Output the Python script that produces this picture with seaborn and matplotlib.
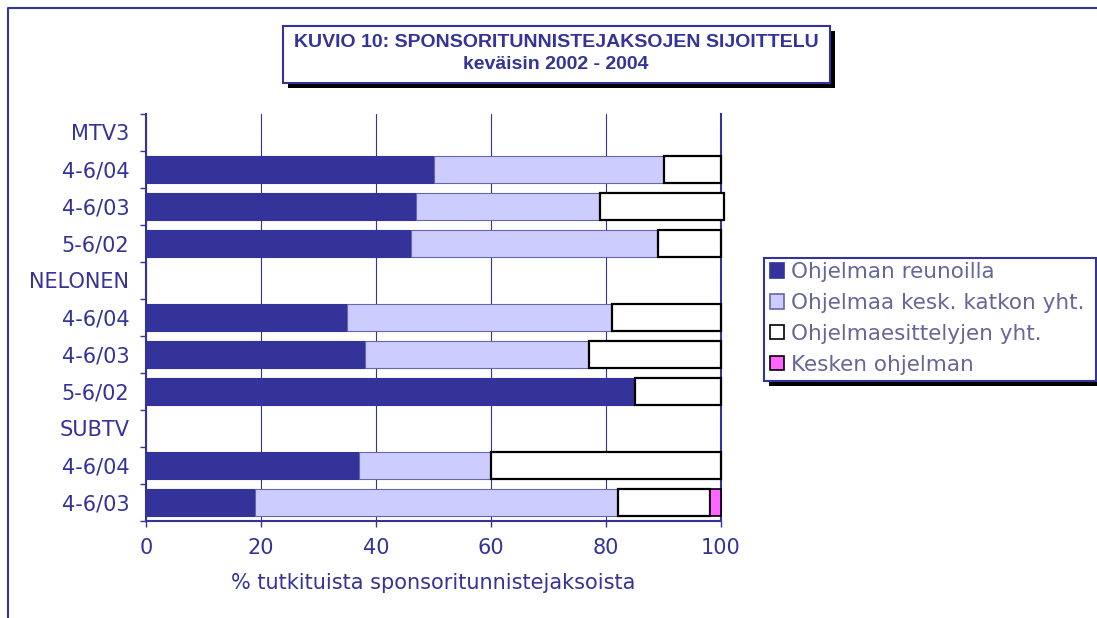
import numpy as np
import pandas as pd
import matplotlib
matplotlib.use("Agg")
import matplotlib.pyplot as plt
from matplotlib.patches import Rectangle, Patch
from matplotlib.lines import Line2D
import seaborn as sns

# ============ Data ============
row_keys = ["mtv3", "mtv3_04", "mtv3_03", "mtv3_02",
            "nelonen", "nel_04", "nel_03", "nel_02",
            "subtv", "sub_04", "sub_03"]
row_labels = ["MTV3", "4-6/04", "4-6/03", "5-6/02",
              "NELONEN", "4-6/04", "4-6/03", "5-6/02",
              "SUBTV", "4-6/04", "4-6/03"]

reunoilla = [0, 50, 47, 46, 0, 35, 38, 85, 0, 37, 19]
katkon = [0, 40, 32, 43, 0, 46, 39, 0, 0, 23, 63]
esittely = [0, 10, 21.5, 11, 0, 19, 23, 15, 0, 40, 16]
kesken = [0, 0, 0, 0, 0, 0, 0, 0, 0, 0, 2]

series_names = ["Ohjelman reunoilla", "Ohjelmaa kesk. katkon yht.",
                "Ohjelmaesittelyjen yht.", "Kesken ohjelman"]

DARK = "#333399"
LIGHT = "#CCCCFF"
PINK = "#FF66FF"
LEG_TXT = "#666699"

styles = [
    dict(color=DARK, edgecolor=DARK, linewidth=0.8),
    dict(color=LIGHT, edgecolor="#6666AA", linewidth=0.8),
    dict(color="white", edgecolor="black", linewidth=1.6),
    dict(color=PINK, edgecolor="black", linewidth=1.2),
]

# ============ Figure ============
sns.set_style("white")
plt.rcParams["font.family"] = ["DejaVu Sans"]

W, H = 1097, 618
fig = plt.figure(figsize=(W / 100, H / 100), dpi=100)
ax = fig.add_axes([146 / W, 1 - 521 / H, (721 - 146) / W, (521 - 114) / H])

left = np.zeros(len(row_keys))
for vals, st in zip([reunoilla, katkon, esittely, kesken], styles):
    vals = np.array(vals, dtype=float)
    mask = vals > 0
    sub = pd.DataFrame({"rivi": np.array(row_keys)[mask], "arvo": vals[mask]})
    sns.barplot(data=sub, y="rivi", x="arvo", order=row_keys, orient="h",
                width=0.72, saturation=1, errorbar=None, left=left[mask],
                ax=ax, zorder=3, **st)
    left += vals

# the MTV3 4-6/03 bar runs slightly past 100 in the original
for p in ax.patches:
    p.set_clip_on(False)

ax.set_xlim(0, 100)
ax.set_ylim(len(row_keys) - 0.5, -0.5)
ax.set_xticks(range(0, 101, 20))
ax.set_yticks(range(len(row_keys)))
ax.set_yticklabels(row_labels)
ax.set_yticks(np.arange(-0.5, len(row_keys)), minor=True)
ax.set_ylabel("")
ax.set_xlabel("% tutkituista sponsoritunnistejaksoista", color=DARK,
              fontsize=15, labelpad=11)

ax.grid(axis="x", color=DARK, linewidth=0.8, zorder=0)
ax.grid(axis="y", visible=False)
ax.set_axisbelow(True)
ax.spines["top"].set_visible(False)
for s in ["left", "bottom", "right"]:
    ax.spines[s].set_color(DARK)
    ax.spines[s].set_linewidth(1.5)

ax.tick_params(axis="y", which="major", length=0, pad=12, labelsize=15,
               labelcolor=DARK)
ax.tick_params(axis="y", which="minor", length=4, width=1, color=DARK,
               direction="out", left=True)
ax.tick_params(axis="x", length=4, width=1, color=DARK, direction="out",
               bottom=True, pad=8, labelsize=15, labelcolor=DARK)

# ============ Title box ============
fig.add_artist(Rectangle((288 / W, 1 - 88 / H), (830 - 283) / W, (83 - 26) / H,
                         transform=fig.transFigure, facecolor="black",
                         edgecolor="none", zorder=1))
fig.add_artist(Rectangle((283 / W, 1 - 83 / H), (830 - 283) / W, (83 - 26) / H,
                         transform=fig.transFigure, facecolor="white",
                         edgecolor=DARK, linewidth=1.5, zorder=2))
fig.text(556 / W, 1 - 53.5 / H,
         "KUVIO 10: SPONSORITUNNISTEJAKSOJEN SIJOITTELU\nkeväisin 2002 - 2004",
         ha="center", va="center", fontsize=14, fontweight="bold",
         color=DARK, family="Liberation Sans", linespacing=1.35, zorder=3)

# ============ Legend box ============
fig.add_artist(Rectangle((769 / W, 1 - 386 / H), (1096 - 764) / W, (381 - 258) / H,
                         transform=fig.transFigure, facecolor="black",
                         edgecolor="none", zorder=1))
fig.add_artist(Rectangle((764 / W, 1 - 381 / H), (1096 - 764) / W, (381 - 258) / H,
                         transform=fig.transFigure, facecolor="white",
                         edgecolor=DARK, linewidth=1.5, zorder=2))
handles = [Patch(facecolor=st["color"], edgecolor=st["edgecolor"],
                 linewidth=1.2, label=name)
           for st, name in zip(styles, series_names)]
leg = fig.legend(handles=handles, loc="upper left",
                 bbox_to_anchor=(767 / W, 1 - 259 / H), frameon=False,
                 fontsize=15.5, labelcolor=LEG_TXT, handlelength=0.65,
                 handleheight=0.65, handletextpad=0.3, labelspacing=0.5,
                 borderpad=0.15, borderaxespad=0)
leg.set_zorder(4)

# ============ Outer frame ============
fig.add_artist(Line2D([8 / W, 8 / W, 1.0], [0.0, 1 - 8 / H, 1 - 8 / H],
                      transform=fig.transFigure, color=DARK, linewidth=1.5))

fig.savefig("out.png", dpi=100)
